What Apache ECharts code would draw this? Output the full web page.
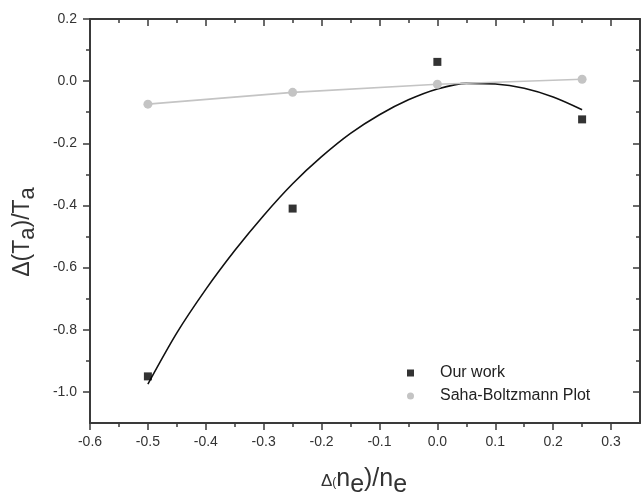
<!DOCTYPE html>
<html>
<head>
<meta charset="utf-8">
<script src="https://cdn.jsdelivr.net/npm/echarts@6/dist/echarts.min.js"></script>
<style>
  html, body { margin: 0; padding: 0; background: #fff; }
  #chart { width: 643px; height: 495px; }
</style>
</head>
<body>
<div id="chart"></div>
<script>
// measured points
const xPoints = [-0.5, -0.25, 0.0, 0.25];
const ourWork = [-0.95, -0.41, 0.062, -0.123];
const sahaBoltzmann = [-0.074, -0.036, -0.01, 0.006];

// fitted curve
const fitX = [-0.5, -0.45, -0.4, -0.35, -0.3, -0.25, -0.2, -0.15, -0.1, -0.05, 0.0, 0.05, 0.1, 0.15, 0.2, 0.25];
const fitY = [-0.975, -0.81, -0.67, -0.545, -0.432, -0.33, -0.243, -0.168, -0.108, -0.06, -0.025, -0.007, -0.009, -0.023, -0.051, -0.092];

// ticks
const xMajor = [-0.6, -0.5, -0.4, -0.3, -0.2, -0.1, 0.0, 0.1, 0.2, 0.3];
const xMinor = [-0.55, -0.45, -0.35, -0.25, -0.15, -0.05, 0.05, 0.15, 0.25];
const yMajor = [-1.0, -0.8, -0.6, -0.4, -0.2, 0.0, 0.2];
const yMinor = [-0.9, -0.7, -0.5, -0.3, -0.1, 0.1];

const AXIS_COLOR = '#3a3a3a';
const FONT = '"Liberation Sans", Arial, sans-serif';

function pairs(xs, ys) {
  return xs.map((x, i) => [x, ys[i]]);
}

function makeAxis(position, ticks, opts) {
  const isX = position === 'bottom' || position === 'top';
  return {
    type: 'value',
    position,
    min: isX ? -0.6 : -1.1,
    max: isX ? 0.35 : 0.2,
    splitLine: { show: false },
    axisLine: { show: opts.line, onZero: false, lineStyle: { color: AXIS_COLOR, width: 2 } },
    axisTick: {
      show: true,
      inside: opts.inside,
      length: opts.len,
      customValues: ticks,
      lineStyle: { color: AXIS_COLOR, width: 1.5 }
    },
    axisLabel: opts.label ? {
      show: true,
      customValues: ticks,
      margin: isX ? 12 : 13,
      color: '#333',
      fontSize: 14,
      fontFamily: FONT,
      formatter: v => v.toFixed(1)
    } : { show: false }
  };
}

const chart = echarts.init(document.getElementById('chart'));

chart.setOption({
  animation: false,
  backgroundColor: '#fff',
  grid: { left: 90, right: 3, top: 19, bottom: 72 },
  xAxis: [
    makeAxis('bottom', xMajor, { line: true, inside: false, len: 7, label: true }),
    makeAxis('bottom', xMinor, { line: false, inside: false, len: 4, label: false }),
    makeAxis('top', xMajor, { line: true, inside: true, len: 7, label: false }),
    makeAxis('top', xMinor, { line: false, inside: true, len: 4, label: false })
  ],
  yAxis: [
    makeAxis('left', yMajor, { line: true, inside: false, len: 7, label: true }),
    makeAxis('left', yMinor, { line: false, inside: false, len: 4, label: false }),
    makeAxis('right', yMajor, { line: true, inside: true, len: 7, label: false }),
    makeAxis('right', yMinor, { line: false, inside: true, len: 4, label: false })
  ],
  legend: {
    orient: 'vertical',
    left: 402,
    top: 360,
    itemWidth: 7,
    itemHeight: 7,
    itemGap: 7,
    textStyle: { fontSize: 16, fontFamily: FONT, color: '#222', padding: [0, 0, 0, 21] },
    data: [
      { name: 'Our work', icon: 'rect', itemStyle: { color: '#000' } },
      { name: 'Saha-Boltzmann Plot', icon: 'circle', itemStyle: { color: '#c4c4c4' } }
    ]
  },
  graphic: [
    {
      type: 'text',
      x: 24,
      y: 232,
      rotation: Math.PI / 2,
      style: {
        text: '{m|Δ(T}{s|a}{m|)/T}{s|a}',
        align: 'center',
        verticalAlign: 'middle',
        fill: '#333',
        rich: {
          m: { fontSize: 23, fontFamily: FONT, verticalAlign: 'top', lineHeight: 26 },
          s: { fontSize: 22, fontFamily: FONT, verticalAlign: 'top', lineHeight: 26, padding: [6, 0, 0, 0] }
        }
      }
    },
    {
      type: 'text',
      x: 364,
      y: 480,
      style: {
        text: '{d|Δ}{p|(}{m|n}{s|e}{m|)/n}{s|e}',
        align: 'center',
        verticalAlign: 'middle',
        fill: '#333',
        rich: {
          d: { fontSize: 17, fontFamily: FONT, verticalAlign: 'top', lineHeight: 27, padding: [6, 0, 0, 0] },
          p: { fontSize: 12, fontFamily: FONT, verticalAlign: 'top', lineHeight: 27, padding: [10, 0, 0, 0] },
          m: { fontSize: 25, fontFamily: FONT, verticalAlign: 'top', lineHeight: 27 },
          s: { fontSize: 25, fontFamily: FONT, verticalAlign: 'top', lineHeight: 27, padding: [6, 0, 0, 0] }
        }
      }
    }
  ],
  series: [
    {
      name: 'fit',
      type: 'line',
      data: pairs(fitX, fitY),
      smooth: 0.3,
      symbol: 'none',
      silent: true,
      lineStyle: { color: '#111', width: 1.6 },
      z: 2
    },
    {
      name: 'Saha-Boltzmann Plot',
      type: 'line',
      data: pairs(xPoints, sahaBoltzmann),
      symbol: 'circle',
      symbolSize: 9,
      itemStyle: { color: '#c4c4c4' },
      lineStyle: { color: '#c4c4c4', width: 1.6 },
      z: 3
    },
    {
      name: 'Our work',
      type: 'scatter',
      data: pairs(xPoints, ourWork),
      symbol: 'rect',
      symbolSize: 8,
      itemStyle: { color: '#000' },
      z: 4
    }
  ]
});
</script>
</body>
</html>
